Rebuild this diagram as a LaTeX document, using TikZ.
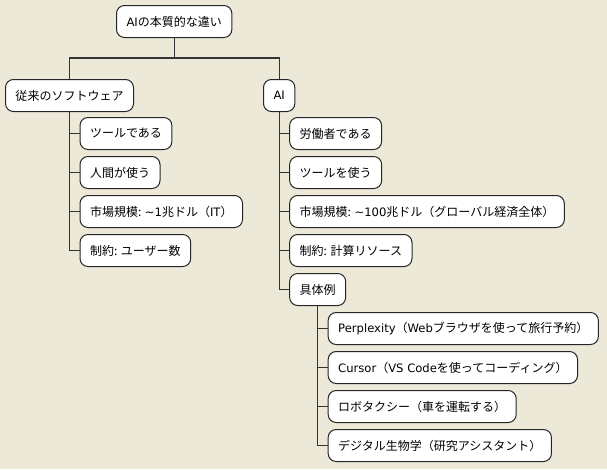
\documentclass[tikz,border=0pt]{standalone}
\usepackage{fontspec}
\setmainfont{Noto Sans CJK JP}
\newfontfamily\latfont{DejaVu Sans}
\newcommand{\lat}[1]{{\latfont\fontsize{11.6pt}{13pt}\selectfont #1}}
\usetikzlibrary{positioning}
\definecolor{xpbeige}{HTML}{ECE9D8}

\begin{document}
\begin{tikzpicture}[
        x=1pt, y=1pt,
        node distance = 6pt and 10pt,
        kasten/.style = {rectangle, draw=black!85, fill=white, rounded corners=8pt,
                         line width=1pt, minimum height=32pt, inner xsep=10pt, anchor=north west},
        ast/.style = {draw=black!80, line width=1.2pt},
        font=\fontsize{12pt}{14pt}\selectfont
        ]
        \fill[xpbeige] (0,0) rectangle (607,-469);
        \useasboundingbox (0,0) rectangle (607,-469);

        % Wurzel und erste Ebene
        \node[kasten] (root) at (116,-5) {\lat{AI}の本質的な違い};
        \node[kasten] (alt) at (5,-79) {従来のソフトウェア};
        \node[kasten] (ki) at (263,-79) {\lat{AI}};

        % herkoemmliche Software
        \node[kasten] (alt1) at ([xshift=10pt,yshift=-5pt] alt.south) {ツールである};
        \node[kasten] (alt2) [below=of alt1.south west, anchor=north west] {人間が使う};
        \node[kasten] (alt3) [below=of alt2.south west, anchor=north west] {市場規模: \lat{\textasciitilde 1}兆ドル（\lat{IT}）};
        \node[kasten] (alt4) [below=of alt3.south west, anchor=north west] {制約: ユーザー数};

        % KI
        \node[kasten] (ki1) at ([xshift=10pt,yshift=-5pt] ki.south) {労働者である};
        \node[kasten] (ki2) [below=of ki1.south west, anchor=north west] {ツールを使う};
        \node[kasten] (ki3) [below=of ki2.south west, anchor=north west] {市場規模: \lat{\textasciitilde 100}兆ドル（グローバル経済全体）};
        \node[kasten] (ki4) [below=of ki3.south west, anchor=north west] {制約: 計算リソース};
        \node[kasten] (ki5) [below=of ki4.south west, anchor=north west] {具体例};

        % Beispiele
        \node[kasten] (bsp1) at ([xshift=10pt,yshift=-6pt] ki5.south) {\lat{Perplexity}（\lat{Web}ブラウザを使って旅行予約）};
        \node[kasten] (bsp2) [below=of bsp1.south west, anchor=north west] {\lat{Cursor}（\lat{VS Code}を使ってコーディング）};
        \node[kasten] (bsp3) [below=of bsp2.south west, anchor=north west] {ロボタクシー（車を運転する）};
        \node[kasten] (bsp4) [below=of bsp3.south west, anchor=north west] {デジタル生物学（研究アシスタント）};

        \draw[ast] (root.south) -- ++(0,-20) -| (alt.north);
        \draw[ast] (root.south) -- ++(0,-20) -| (ki.north);
        \foreach \k in {alt1,alt2,alt3,alt4}
            \draw[ast] (alt.south) |- (\k.west);
        \foreach \k in {ki1,ki2,ki3,ki4,ki5}
            \draw[ast] (ki.south) |- (\k.west);
        \foreach \k in {bsp1,bsp2,bsp3,bsp4}
            \draw[ast] (ki5.south) |- (\k.west);
      \end{tikzpicture}
\end{document}
